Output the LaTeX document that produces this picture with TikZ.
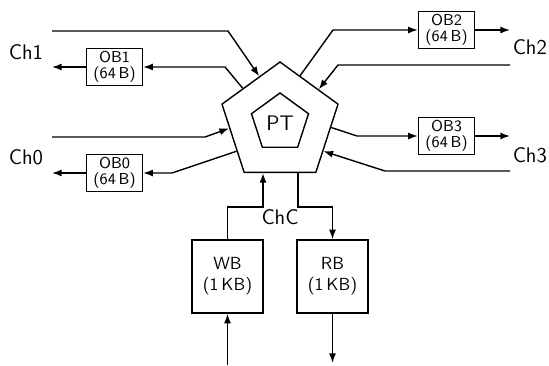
\documentclass[tikz,border=0pt]{standalone}
\usepackage{tikz}
\usetikzlibrary{arrows.meta,shapes.geometric,calc}
\renewcommand{\familydefault}{\sfdefault}

\begin{document}
\begin{tikzpicture}[
    arr/.style={thick,-{Latex[length=5.5pt,width=4pt]}},
    obbox/.style={draw,thick,align=center,font=\small,inner sep=1pt,
      minimum width=1.12cm,minimum height=0.74cm},
    bufbox/.style={draw,thick,align=center,minimum width=1.42cm,minimum height=1.46cm},
    penta/.style={draw,thick,regular polygon,regular polygon sides=5,inner sep=0pt}]
  \useasboundingbox (0,0) rectangle (10.98,7.3);
  % Processing thread
  \node[penta,minimum size=2.44cm] (pt) at (5.6,4.84) {};
  \node[penta,minimum size=1.2cm,font=\large] (ptin) at (5.6,4.84) {PT};
  % Output buffers
  \foreach \n/\x/\y in {0/2.29/3.84,1/2.29/5.96,2/8.93/6.7,3/8.93/4.58}{
    \node[obbox] (ob\n) at (\x,\y) {OB\n\\[-2pt](64\,B)};
  }
  % Write / read buffers
  \node[bufbox] (wb) at (4.55,1.77) {WB\\(1\,KB)};
  \node[bufbox] (rb) at (6.65,1.77) {RB\\(1\,KB)};
  % Channel labels
  \node[font=\large] (ch1) at (0.52,6.26) {Ch1};
  \node[font=\large] (ch0) at (0.52,4.16) {Ch0};
  \node[font=\large,anchor=east,inner sep=1pt] (ch2) at (10.98,6.36) {Ch2};
  \node[font=\large,anchor=east,inner sep=1pt] (ch3) at (10.98,4.2) {Ch3};
  \node[font=\large] (chc) at (5.6,2.96) {ChC};
  % Free ends and bends
  \coordinate (in1) at (1.04,6.68);  \coordinate (b1) at (4.56,6.68);
  \coordinate (out1) at (1.04,5.96); \coordinate (c1) at (4.5,5.96);
  \coordinate (in0) at (1.04,4.56);  \coordinate (b0) at (4.1,4.56);
  \coordinate (out0) at (1.04,3.84); \coordinate (c0) at (3.44,3.84);
  \coordinate (out2) at (10.2,6.7);  \coordinate (c2) at (6.66,6.7);
  \coordinate (in2) at (10.2,6.0);   \coordinate (b2) at (6.76,6.0);
  \coordinate (out3) at (10.2,4.58); \coordinate (c3) at (7.14,4.58);
  \coordinate (in3) at (10.2,3.88);  \coordinate (b3) at (7.7,3.88);
  \coordinate (wbup) at (5.26,3.16); \coordinate (rbdn) at (5.96,3.16);
  \coordinate (win) at (4.55,0);     \coordinate (rout) at (6.65,0.04);
  % Ch1 and Ch0
  \draw[arr] (in1) -- (b1) -- (pt.114);
  \draw[arr] (pt.137) -- (c1) -- (ob1.east);
  \draw[arr] (ob1.west) -- (out1);
  \draw[arr] (in0) -- (b0) -- (pt.186);
  \draw[arr] (pt.213) -- (c0) -- (ob0.east);
  \draw[arr] (ob0.west) -- (out0);
  % Ch2 and Ch3
  \draw[arr] (pt.67) -- (c2) -- (ob2.west);
  \draw[arr] (ob2.east) -- (out2);
  \draw[arr] (in2) -- (b2) -- (pt.41);
  \draw[arr] (pt.-5) -- (c3) -- (ob3.west);
  \draw[arr] (ob3.east) -- (out3);
  \draw[arr] (in3) -- (b3) -- (pt.-33);
  % ChC
  \draw[arr] (wb.north) |- (wbup) -- (wbup |- pt.south);
  \draw[arr] (rbdn |- pt.south) -- (rbdn) -| (rb.north);
  \draw[arr] (win) -- (wb.south);
  \draw[arr] (rb.south) -- (rout);
\end{tikzpicture}
\end{document}
